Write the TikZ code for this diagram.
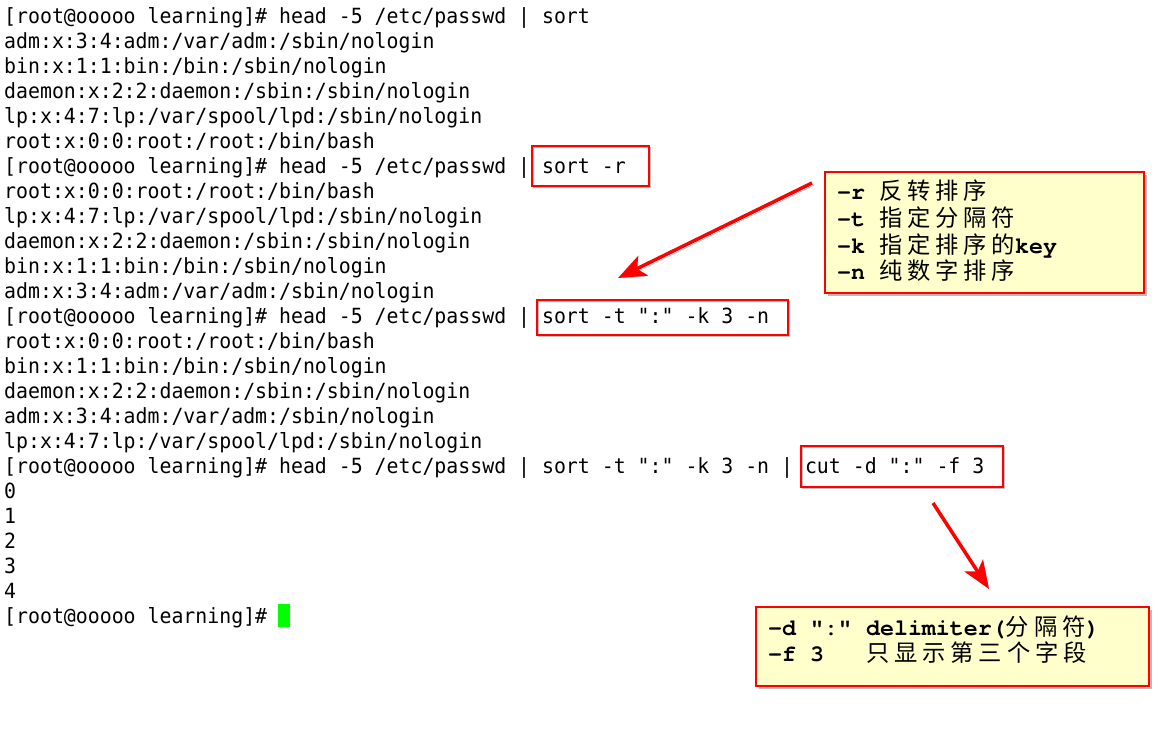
\documentclass[tikz,border=0pt]{standalone}
\usepackage{fontspec}
\usepackage{tikz}
\usetikzlibrary{arrows.meta,%
                shadows}
\newfontfamily\termfont[FakeStretch=0.95]{DejaVu Sans Mono}
\newfontfamily\notefont{texgyrecursor-bold.otf}
\newfontfamily\cjk[LetterSpace=21]{Noto Sans CJK SC}
\newcommand{\zh}[1]{{\cjk #1}}
\definecolor{noteyellow}{RGB}{255,255,204}
\definecolor{cursorgreen}{RGB}{0,255,0}

\begin{document}
\begin{tikzpicture}[x=1pt,y=-1pt]
		\useasboundingbox[fill=white] (0,0) rectangle (1159,739);
		%\draw[help lines,step=25] (0,0) grid (1159,739);
		\tikzset{LineStyle/.style = {font=\termfont\fontsize{20.9}{25}\selectfont,anchor=base west,inner sep=0pt}}
		\foreach \txt [count=\i from 0] in {%
			{[root@ooooo learning]\# head -5 /etc/passwd | sort},
			{adm:x:3:4:adm:/var/adm:/sbin/nologin},
			{bin:x:1:1:bin:/bin:/sbin/nologin},
			{daemon:x:2:2:daemon:/sbin:/sbin/nologin},
			{lp:x:4:7:lp:/var/spool/lpd:/sbin/nologin},
			{root:x:0:0:root:/root:/bin/bash},
			{[root@ooooo learning]\# head -5 /etc/passwd | sort -r},
			{root:x:0:0:root:/root:/bin/bash},
			{lp:x:4:7:lp:/var/spool/lpd:/sbin/nologin},
			{daemon:x:2:2:daemon:/sbin:/sbin/nologin},
			{bin:x:1:1:bin:/bin:/sbin/nologin},
			{adm:x:3:4:adm:/var/adm:/sbin/nologin},
			{[root@ooooo learning]\# head -5 /etc/passwd | sort -t ":" -k 3 -n},
			{root:x:0:0:root:/root:/bin/bash},
			{bin:x:1:1:bin:/bin:/sbin/nologin},
			{daemon:x:2:2:daemon:/sbin:/sbin/nologin},
			{adm:x:3:4:adm:/var/adm:/sbin/nologin},
			{lp:x:4:7:lp:/var/spool/lpd:/sbin/nologin},
			{[root@ooooo learning]\# head -5 /etc/passwd | sort -t ":" -k 3 -n | cut -d ":" -f 3},
			{0},{1},{2},{3},{4},
			{[root@ooooo learning]\#}}
			\node[LineStyle] (L\i) at (4,23+25*\i) {\txt};
		\node[fill=cursorgreen,minimum width=12pt,minimum height=23pt,inner sep=0pt] (Cursor) at (284,615.5) {};
		{
			\tikzset{BoxStyle/.style = {draw=red,line width=1.4pt,inner sep=0pt,
				preaction={draw=black!25,transform canvas={shift={(1.5pt,-1.5pt)}}}}}
			\node[BoxStyle,minimum width=117pt,minimum height=40pt] (SortR) at (590.5,166) {};
			\node[BoxStyle,minimum width=251pt,minimum height=35pt] (SortT) at (662.5,317.5) {};
			\node[BoxStyle,minimum width=202pt,minimum height=41pt] (Cut) at (902,466.5) {};
		}
		{
			\tikzset{NoteStyle/.style = {draw=red,line width=1.5pt,fill=noteyellow,anchor=north west,inner sep=0pt,
				drop shadow={shadow xshift=3pt,shadow yshift=-3pt,fill=black!60,opacity=0.45}}}
			\tikzset{NoteText/.style = {font=\notefont\fontsize{23.3}{27}\selectfont,anchor=base west,inner sep=0pt}}
			\node[NoteStyle,minimum width=319pt,minimum height=121pt] (SortOpts) at (824,171) {};
			\foreach \txt [count=\i] in {{-r \zh{反转排序}},{-t \zh{指定分隔符}},{-k \zh{指定排序的}key},{-n \zh{纯数字排序}}}
				\node[NoteText] (SortOpt\i) at (837,173+26.7*\i) {\txt};
			\node[NoteStyle,minimum width=393pt,minimum height=79pt] (CutOpts) at (755,606) {};
			\node[NoteText] (CutOpt1) at (768,635) {-d ":" delimiter(\zh{分隔符})};
			\node[NoteText] (CutOpt2) at (768,661) {-f 3\ \ \ \zh{只显示第三个字段}};
		}
		\tikzstyle{ArrowStyle}=[draw=red,line width=3.5pt,-{Stealth[length=28pt,width=22pt,inset=7pt]},
			preaction={draw=black!30,transform canvas={shift={(2pt,-2pt)}}}]
		\coordinate (SortFrom) at (812,183);
		\coordinate (SortTo) at (618,278);
		\coordinate (CutFrom) at (933,503);
		\coordinate (CutTo) at (989,589);
		\draw[ArrowStyle] (SortFrom) -- (SortTo);
		\draw[ArrowStyle] (CutFrom) -- (CutTo);
	\end{tikzpicture}
\end{document}
